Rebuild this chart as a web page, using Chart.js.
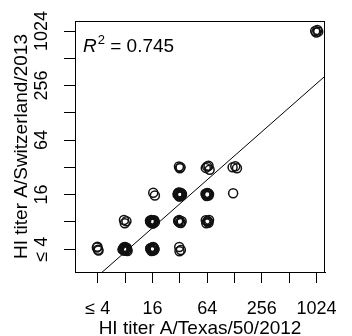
<!DOCTYPE html>
<html>
<head>
<meta charset="utf-8">
<script src="https://cdn.jsdelivr.net/npm/chart.js@4.4.1/dist/chart.umd.min.js"></script>
<style>
  html, body { margin: 0; padding: 0; background: #fff; }
  canvas { display: block; }
</style>
</head>
<body>
<canvas id="titerChart" width="352" height="336"></canvas>
<script>
// log2 titers, jittered a little by hand like R's jitter()
const texasTiter = [
  // <=4 / <=4
  1.97, 2.03, 1.99, 2.01,
  // 8 / <=4
  2.92, 3.06, 2.97, 3.08, 3.00, 2.94, 3.05, 3.02, 2.96, 3.09, 2.91, 3.03,
  // 16 / <=4
  3.93, 4.06, 4.00, 4.08, 3.94, 4.03, 3.97, 4.05, 3.92, 4.01,
  // 32 / <=4
  4.98, 5.04, 4.99,
  // 8 / 8
  2.96, 3.05, 2.99,
  // 16 / 8
  3.92, 4.07, 4.00, 3.96, 4.09, 4.03, 3.91, 4.02, 3.95, 4.06, 3.99, 4.04,
  // 32 / 8
  4.94, 5.04, 5.07, 4.98, 5.01, 4.96,
  // 64 / 8
  5.95, 6.05, 6.01, 6.07, 5.97, 6.03,
  // 16 / 16
  4.03, 4.09,
  // 32 / 16
  4.92, 5.05, 5.00, 5.08, 4.96, 5.06, 4.93, 5.02, 5.07, 4.98, 4.95, 5.04, 5.01, 4.97,
  // 64 / 16
  5.94, 6.05, 6.00, 6.07, 5.98, 6.03, 5.96, 6.02,
  // 128 / 16
  6.95,
  // 32 / 32
  4.97, 5.03, 5.00,
  // 64 / 32
  5.95, 6.05, 6.09, 6.00,
  // 128 / 32
  6.93, 7.03, 7.09,
  // 1024 / 1024
  9.95, 10.03, 10.06, 9.99
];
const switzerlandTiter = [
  2.06, 1.95, 2.09, 1.98,
  2.00, 2.05, 1.94, 1.99, 2.08, 2.03, 1.96, 2.01, 2.07, 1.93, 1.98, 2.04,
  2.03, 1.96, 2.07, 2.00, 1.98, 2.08, 1.93, 2.05, 2.02, 1.95,
  2.08, 1.97, 1.92,
  3.07, 3.02, 2.95,
  3.00, 3.04, 2.95, 3.07, 2.99, 3.02, 3.04, 2.94, 2.97, 3.06, 3.01, 2.96,
  3.04, 2.96, 3.02, 3.07, 2.97, 3.00,
  3.06, 2.97, 3.03, 3.07, 2.95, 3.01,
  4.07, 3.97,
  4.00, 4.05, 3.94, 4.02, 4.08, 3.96, 4.04, 4.07, 3.99, 3.93, 4.06, 4.01, 3.97, 4.03,
  4.03, 3.97, 4.06, 4.01, 3.95, 4.05, 3.99, 4.04,
  4.05,
  5.03, 5.00, 4.97,
  4.98, 5.06, 4.91, 5.03,
  5.00, 5.04, 4.97,
  10.00, 10.04, 9.98, 9.95
];

// fitted line in log2 space
const fitSlope = 0.883;
const fitIntercept = -0.756;
const rSquared = '0.745';

const tickValues = [2, 3, 4, 5, 6, 7, 8, 9, 10];
const xTickLabels = ['\u2264 4', '', '16', '', '64', '', '256', '', '1024'];
const yTickLabels = ['\u2264 4', '', '16', '', '64', '', '256', '', '1024'];

const xMin = 1.17, xMax = 10.31;
const yMin = 1.16, yMax = 10.37;

const points = texasTiter.map((x, i) => ({ x: x, y: switzerlandTiter[i] }));
const fitLine = [xMin, xMax].map(x => ({ x: x, y: fitIntercept + fitSlope * x }));

const fontFamily = "'Liberation Sans', Arial, sans-serif";

// R style box around the plot and the R^2 note
const boxPlugin = {
  id: 'boxPlugin',
  afterDraw(chart) {
    const ctx = chart.ctx;
    const a = chart.chartArea;
    ctx.save();
    ctx.strokeStyle = '#000';
    ctx.lineWidth = 1;
    ctx.strokeRect(Math.round(a.left) + 0.5, Math.round(a.top) + 0.5,
      Math.round(a.right - a.left) - 1, Math.round(a.bottom - a.top));

    let x = a.left + 8;
    const y = a.top + 31;
    ctx.fillStyle = '#000';
    ctx.textBaseline = 'alphabetic';
    ctx.font = 'italic 19px ' + fontFamily;
    ctx.fillText('R', x, y);
    x += ctx.measureText('R').width + 1;
    ctx.font = '13px ' + fontFamily;
    ctx.fillText('2', x, y - 8);
    x += ctx.measureText('2').width;
    ctx.font = '19px ' + fontFamily;
    ctx.fillText(' = ' + rSquared, x, y);
    ctx.restore();
  }
};

function axisTicks(scale) {
  scale.ticks = tickValues.map(v => ({ value: v }));
}

const ctx = document.getElementById('titerChart').getContext('2d');
const titerChart = new Chart(ctx, {
  type: 'scatter',
  data: {
    datasets: [{
      label: 'sera',
      data: points,
      pointStyle: 'circle',
      pointRadius: 4.5,
      pointHoverRadius: 4.5,
      borderColor: '#111',
      borderWidth: 1.5,
      backgroundColor: 'rgba(0,0,0,0)'
    }, {
      type: 'line',
      label: 'fit',
      data: fitLine,
      borderColor: '#000',
      borderWidth: 1,
      pointRadius: 0,
      fill: false,
      clip: 0
    }]
  },
  plugins: [boxPlugin],
  options: {
    responsive: false,
    animation: false,
    layout: { padding: { top: 21, right: 12, left: 0, bottom: 0 } },
    plugins: {
      legend: { display: false },
      tooltip: { enabled: false }
    },
    scales: {
      x: {
        type: 'linear',
        min: xMin,
        max: xMax,
        afterBuildTicks: axisTicks,
        afterFit(scale) { scale.height = 64; },
        grid: { drawOnChartArea: false, drawTicks: true, tickLength: 11, color: '#000', tickColor: '#000' },
        border: { display: true, color: '#000' },
        ticks: {
          autoSkip: false,
          maxRotation: 0,
          padding: 15,
          color: '#000',
          font: { family: fontFamily, size: 18 },
          callback: (value, i) => xTickLabels[tickValues.indexOf(value)]
        },
        title: {
          display: true,
          text: 'HI titer A/Texas/50/2012',
          color: '#000',
          font: { family: fontFamily, size: 19 },
          padding: { top: 0, bottom: -4 }
        }
      },
      y: {
        type: 'linear',
        min: yMin,
        max: yMax,
        afterBuildTicks: axisTicks,
        afterFit(scale) { scale.width = 75; },
        grid: { drawOnChartArea: false, drawTicks: true, tickLength: 11, color: '#000', tickColor: '#000' },
        border: { display: true, color: '#000' },
        ticks: {
          autoSkip: false,
          minRotation: 90,
          maxRotation: 90,
          crossAlign: 'center',
          padding: 2,
          color: '#000',
          font: { family: fontFamily, size: 18 },
          callback: (value, i) => yTickLabels[tickValues.indexOf(value)]
        },
        title: {
          display: true,
          text: 'HI titer A/Switzerland/2013',
          color: '#000',
          font: { family: fontFamily, size: 19 },
          padding: { top: 10, bottom: 0 }
        }
      }
    }
  }
});
</script>
</body>
</html>
